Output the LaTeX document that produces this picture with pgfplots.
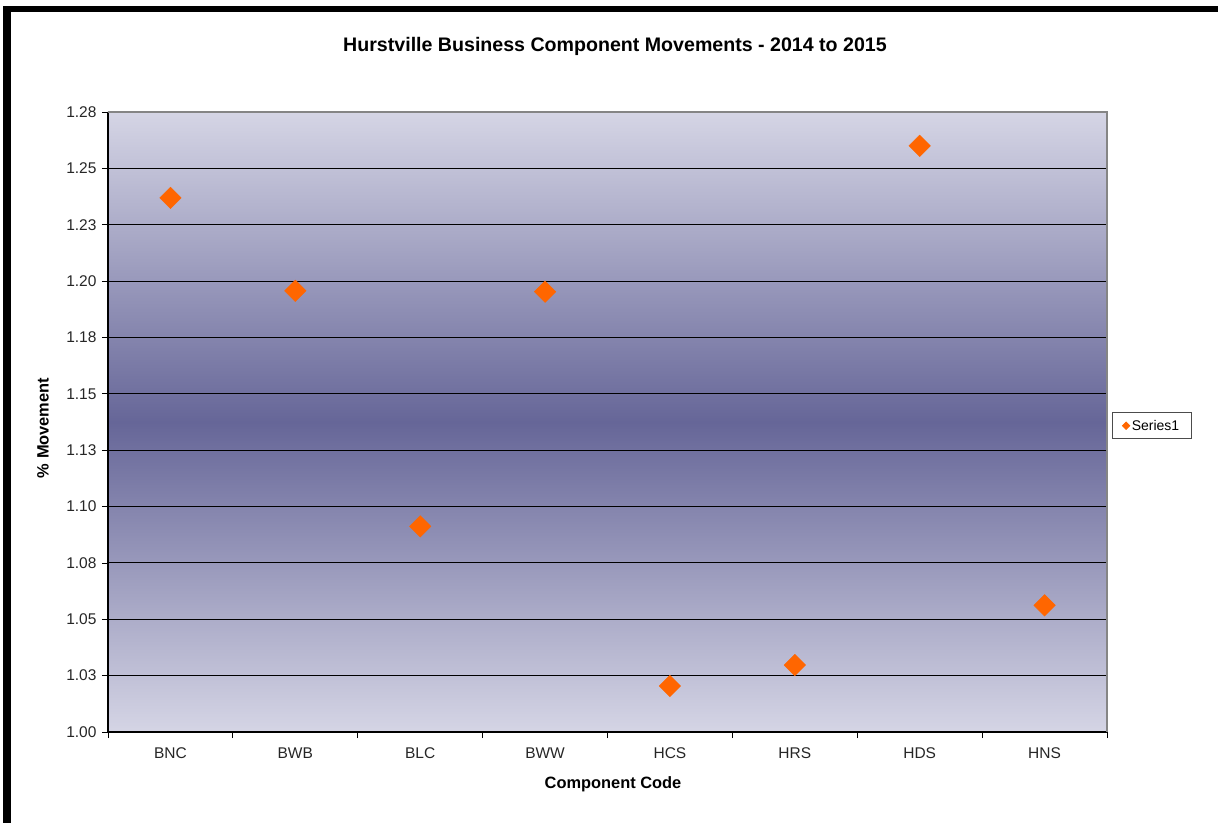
\documentclass[border=0pt]{standalone}
\usepackage{fontspec}
\setmainfont{Liberation Sans}
\usepackage{pgfplots}
\pgfplotsset{compat=1.18}

\definecolor{bgedge}{HTML}{D5D5E5}
\definecolor{bgmid}{HTML}{666698}
\definecolor{markorange}{HTML}{FF6600}
\definecolor{framegray}{HTML}{858585}

\begin{document}
\begin{tikzpicture}
% page bounds, 1 px of the reference = 1 pt
\path[use as bounding box] (-108pt,-91pt) rectangle (1110pt,732pt);
\fill[black] (-105pt,720pt) rectangle (1110pt,726pt);
\fill[black] (-105pt,-91pt) rectangle (-97pt,726pt);

\begin{axis}[
    at={(0pt,0pt)}, anchor=south west,
    scale only axis,
    width=999pt, height=620pt,
    xmin=-0.5, xmax=7.5,
    ymin=1.0, ymax=1.275,
    axis lines=left,
    axis line style={-, black, line width=1.2pt},
    axis background/.style={shade, top color=bgedge, bottom color=bgedge, middle color=bgmid},
    xtick={0,1,2,3,4,5,6,7},
    xticklabels={BNC,BWB,BLC,BWW,HCS,HRS,HDS,HNS},
    major x tick style={draw=none},
    minor xtick={-0.5,0.5,1.5,2.5,3.5,4.5,5.5,6.5,7.5},
    minor x tick style={black, line width=0.8pt},
    ytick={1.0,1.025,1.05,1.075,1.1,1.125,1.15,1.175,1.2,1.225,1.25,1.275},
    yticklabels={1.00,1.03,1.05,1.08,1.10,1.13,1.15,1.18,1.20,1.23,1.25,1.28},
    major y tick style={black, line width=0.8pt},
    tick align=outside,
    major tick length=6pt, minor tick length=6pt,
    ymajorgrids,
    major grid style={black, line width=1.1pt},
    tick label style={font=\fontsize{15.5}{18}\selectfont, text=black!85},
    xticklabel style={anchor=center, yshift=-15pt},
    yticklabel style={anchor=east, xshift=-2pt},
    /pgf/number format/assume math mode=true,
    legend style={at={(rel axis cs:1.005,0.494)}, anchor=west,
        draw=black!70, line width=0.8pt, font=\fontsize{14}{16}\selectfont,
        inner xsep=10pt, inner ysep=5pt},
    legend image code/.code={\draw[mark=square*, mark size=2.6pt,
        mark options={rotate=45, fill=markorange, draw=markorange}]
        plot coordinates {(0.34cm,0cm)};},
    legend cell align=left,
    after end axis/.code={
        \draw[framegray, line width=1.6pt] (rel axis cs:0,1) -- (rel axis cs:1,1) -- (rel axis cs:1,0);
    },
]
\addplot[only marks, mark=square*, mark size=7.6pt,
    mark options={rotate=45, fill=markorange, draw=markorange}]
coordinates {
    (0, 1.2369)
    (1, 1.1957)
    (2, 1.0912)
    (3, 1.1953)
    (4, 1.0204)
    (5, 1.0297)
    (6, 1.2600)
    (7, 1.0562)
};
\addlegendentry{Series1}
\end{axis}

\node[font=\bfseries\fontsize{19.6}{23}\selectfont] at (507pt,686pt)
    {Hurstville Business Component Movements - 2014 to 2015};
\node[font=\bfseries\fontsize{16.4}{19}\selectfont] at (505pt,-52pt) {Component Code};
\node[font=\bfseries\fontsize{16.4}{19}\selectfont, rotate=90] at (-65pt,304pt) {\% Movement};
\end{tikzpicture}
\end{document}
